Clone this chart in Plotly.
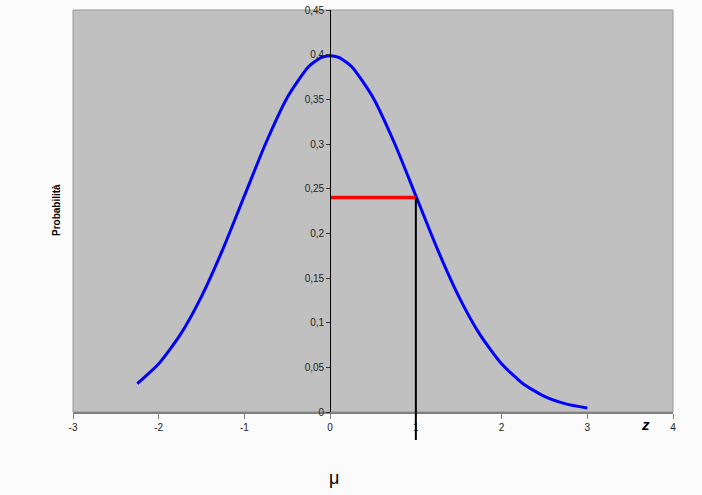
import plotly.graph_objects as go

# Data
z_vals = [-2.25, -2.0, -1.75, -1.5, -1.25, -1.0, -0.75, -0.5, -0.25, -0.1, 0.0, 0.1,
          0.25, 0.5, 0.75, 1.0, 1.25, 1.5, 1.75, 2.0, 2.25, 2.5, 2.75, 3.0]
prob_vals = [0.0317, 0.0540, 0.0863, 0.1295, 0.1826, 0.2420, 0.3011, 0.3521, 0.3867, 0.3970,
             0.3989, 0.3970, 0.3867, 0.3521, 0.3011, 0.2420, 0.1826, 0.1295, 0.0863, 0.0540,
             0.0317, 0.0175, 0.0091, 0.0044]
mark_z = 1.0
mark_p = 0.24
x_ticks = [-3, -2, -1, 0, 1, 2, 3, 4]
x_labels = ["-3", "-2", "-1", "0", "1", "2", "3", "4"]
x_range = [-3, 4]
y_range = [0, 0.45]

W, H = 702, 495
ml, mr, mt, mb = 73, 29, 10, 83

fig = go.Figure()
fig.add_trace(go.Scatter(x=z_vals, y=prob_vals, mode="lines",
                         line=dict(color="#0000ff", width=3, shape="spline", smoothing=0.6),
                         hoverinfo="skip", showlegend=False))
fig.add_trace(go.Scatter(x=[0, mark_z], y=[mark_p, mark_p], mode="lines",
                         line=dict(color="#ff0000", width=3.5),
                         hoverinfo="skip", showlegend=False))

ypos = (0 - x_range[0]) / (x_range[1] - x_range[0])

fig.update_layout(
    width=W, height=H,
    margin=dict(l=ml, r=mr, t=mt, b=mb, pad=0, autoexpand=False),
    paper_bgcolor="#fbfbfb",
    plot_bgcolor="#c0c0c0",
    separators=",.",
    font=dict(family="Liberation Sans, Arial, sans-serif", size=10, color="#222222"),
    xaxis=dict(range=x_range, tickvals=x_ticks, ticktext=x_labels,
               showgrid=False, zeroline=False, automargin=False,
               showline=True, linecolor="#808080", linewidth=1.5,
               ticks="outside", ticklen=5, tickcolor="#808080",
               tickfont=dict(size=10, color="#222222"), mirror=False),
    yaxis=dict(range=y_range, dtick=0.05, showgrid=False, zeroline=False,
               anchor="free", position=ypos, automargin=False,
               showline=True, linecolor="#000000", linewidth=1,
               ticks="outside", ticklen=4, tickcolor="#333333",
               tickfont=dict(size=10, color="#222222")),
)

fig.add_shape(type="rect", xref="paper", yref="paper", x0=0, x1=1, y0=0, y1=1,
              line=dict(color="#999999", width=1), layer="below")
fig.add_shape(type="line", xref="x", yref="paper", x0=mark_z, x1=mark_z,
              y0=-28 / (H - mt - mb), y1=mark_p / y_range[1],
              line=dict(color="#000000", width=2))

def px_x(p):
    return (p - ml) / (W - ml - mr)

def px_y(p):
    return (H - mb - p) / (H - mt - mb)

fig.add_annotation(text="<b>Probabilità</b>", xref="paper", yref="paper",
                   x=px_x(57), y=px_y(210), xanchor="center", yanchor="middle",
                   textangle=-90, showarrow=False, font=dict(size=10, color="#000000"))
fig.add_annotation(text="<b><i>z</i></b>", xref="paper", yref="paper",
                   x=px_x(645), y=px_y(425), xanchor="center", yanchor="middle",
                   showarrow=False, font=dict(size=15, color="#000000"))
fig.add_annotation(text="μ", xref="paper", yref="paper",
                   x=px_x(334), y=px_y(478), xanchor="center", yanchor="middle",
                   showarrow=False, font=dict(size=18, color="#000000"))

fig.write_html("out.html", config={"displayModeBar": False},
               post_script="document.body.style.margin='0';document.body.style.background='#fbfbfb';")
